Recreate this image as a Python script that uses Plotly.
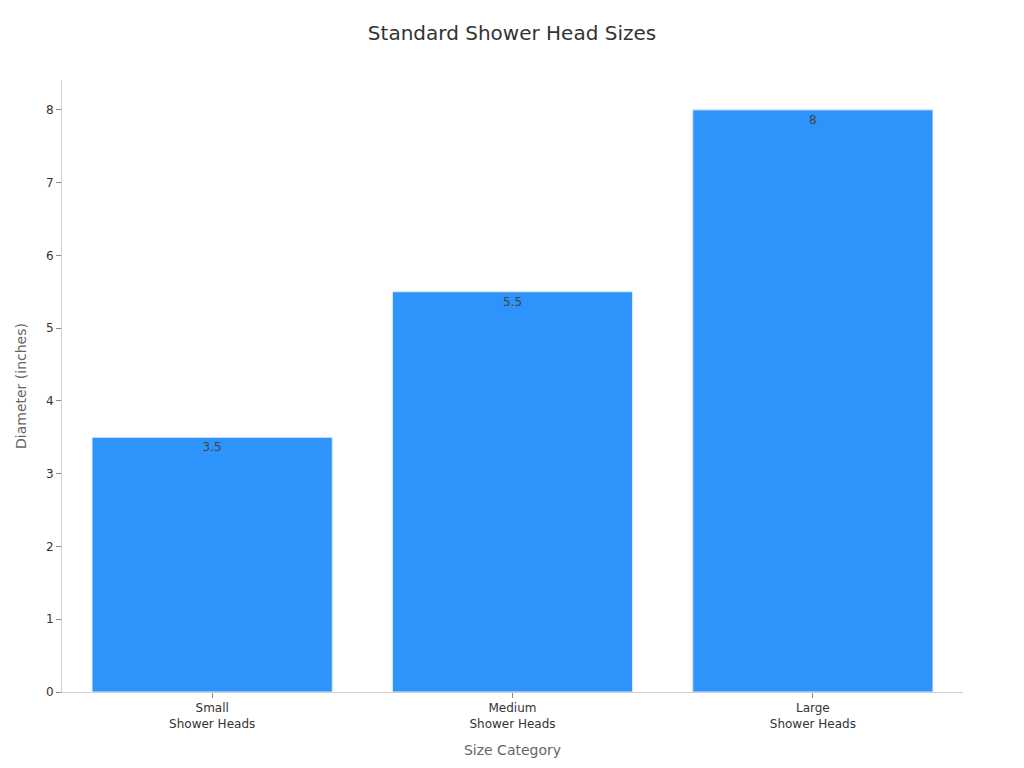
import plotly.graph_objects as go

categories = ["Small<br>Shower Heads", "Medium<br>Shower Heads", "Large<br>Shower Heads"]
diameters = [3.5, 5.5, 8]
value_labels = ["3.5", "5.5", "8"]

fig = go.Figure(
    go.Bar(
        x=categories,
        y=diameters,
        text=value_labels,
        textposition="inside",
        insidetextanchor="end",
        textfont=dict(size=12, color="#444444"),
        marker=dict(color="#2E93FA", line=dict(color="#DDEEFF", width=1)),
        hoverinfo="skip",
    )
)

fig.update_layout(
    width=1024,
    height=768,
    margin=dict(l=51, r=69, t=72, b=84),
    paper_bgcolor="white",
    plot_bgcolor="white",
    font=dict(family="DejaVu Sans", size=12, color="#333333"),
    title=dict(text="Standard Shower Head Sizes", x=0.4922, xanchor="center", y=0.967, yanchor="middle",
               font=dict(size=20, color="#333333")),
    bargap=0.2,
    showlegend=False,
)
fig.update_xaxes(
    title=dict(text="Size Category", font=dict(size=14, color="#666666"), standoff=15),
    showline=True, linecolor="#D0D0D0", linewidth=1,
    ticks="outside", tickcolor="#888888", ticklen=5,
    showgrid=False, tickfont=dict(size=12, color="#333333"),
)
fig.update_yaxes(
    title=dict(text="Diameter (inches)", font=dict(size=14, color="#666666"), standoff=16),
    range=[0, 8.41], dtick=1,
    showline=True, linecolor="#D0D0D0", linewidth=1,
    ticks="outside", tickcolor="#888888", ticklen=5,
    showgrid=False, zeroline=False, tickfont=dict(size=12, color="#333333"),
)

fig.write_html("out.html")
